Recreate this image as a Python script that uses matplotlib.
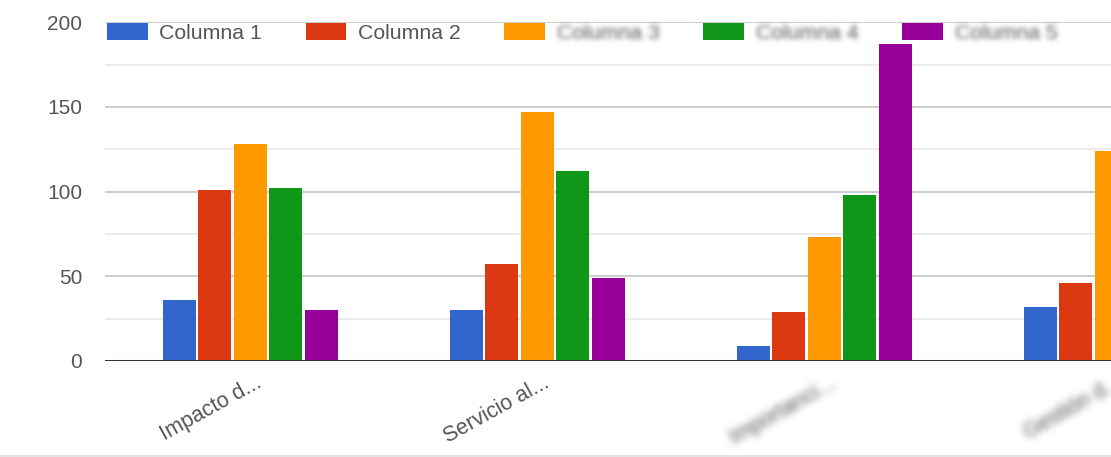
import numpy as np
import matplotlib
matplotlib.use("Agg")
import matplotlib.pyplot as plt
from matplotlib.lines import Line2D
from matplotlib.patches import Patch
from matplotlib.transforms import ScaledTranslation

# ---- data -------------------------------------------------------------
categories = ["Impacto d...", "Servicio al...", "Importanci...", "Gestión d..."]
series_names = ["Columna 1", "Columna 2", "Columna 3", "Columna 4", "Columna 5"]
columna_1 = [36, 30, 9, 32]
columna_2 = [101, 57, 29, 46]
columna_3 = [128, 147, 73, 124]
columna_4 = [102, 112, 98, np.nan]
columna_5 = [30, 49, 187, np.nan]
y_ticks = [0, 50, 100, 150, 200]
y_minor_ticks = [25, 75, 125, 175]

series = [columna_1, columna_2, columna_3, columna_4, columna_5]
colors = ["#3366cc", "#dc3912", "#ff9900", "#109618", "#990099"]

plt.rcParams["font.family"] = ["Liberation Sans", "DejaVu Sans"]


class Blur:
    """Gaussian blur applied through matplotlib's agg_filter hook."""

    def __init__(self, sigma_px):
        self.sigma = sigma_px

    def __call__(self, im, dpi):
        r = int(np.ceil(3 * self.sigma))
        t = np.arange(-r, r + 1)
        k = np.exp(-0.5 * (t / self.sigma) ** 2)
        k /= k.sum()
        pad = 2 * r
        src = np.pad(im, [(pad, pad), (pad, pad), (0, 0)], mode="constant")
        a = src[:, :, 3]
        pm = src[:, :, :3] * a[:, :, None]

        def conv(arr):
            arr = np.apply_along_axis(lambda v: np.convolve(v, k, mode="same"), 0, arr)
            arr = np.apply_along_axis(lambda v: np.convolve(v, k, mode="same"), 1, arr)
            return arr

        a_b = conv(a)
        out = np.zeros_like(src)
        for c in range(3):
            ch = conv(pm[:, :, c])
            out[:, :, c] = np.where(a_b > 1e-4, ch / np.maximum(a_b, 1e-4), 0)
        out[:, :, 3] = a_b
        return np.clip(out, 0, 1), -pad, -pad


W, H = 1111, 457
fig = plt.figure(figsize=(W / 100, H / 100), dpi=100)
fig.patch.set_facecolor("white")

left_px, base_px, top_px = 105, 361, 22.3
ax = fig.add_axes([left_px / W, (H - base_px) / H, 1 - left_px / W,
                   (base_px - top_px) / H])

x = np.arange(len(categories))
slot = 0.1237
bar_w = 0.115
for i, (vals, col) in enumerate(zip(series, colors)):
    ax.bar(x + (i - 2) * slot, vals, bar_w, color=col, zorder=3,
           label=series_names[i], linewidth=0)

ax.set_xlim(-0.507, 2.965)
ax.set_ylim(0, 200)
ax.set_yticks(y_ticks)
ax.set_yticks(y_minor_ticks, minor=True)
ax.grid(axis="y", which="major", color="#cccccc", lw=1.4, zorder=0)
ax.grid(axis="y", which="minor", color="#ebebeb", lw=1.4, zorder=0)
ax.axhline(0, color="#333333", lw=2.2, zorder=4)
for s in ax.spines.values():
    s.set_visible(False)

ax.tick_params(axis="y", which="both", length=0, pad=16.5,
               labelsize=15, labelcolor="#555555")
ax.set_xticks(x)
ax.set_xticklabels(categories, rotation=29, ha="right", va="top",
                   rotation_mode="anchor", fontsize=15.5, color="#555555")
ax.tick_params(axis="x", length=0, pad=8)
shift = ScaledTranslation(5 / 100, 0, fig.dpi_scale_trans)
for i, lbl in enumerate(ax.get_xticklabels()):
    lbl.set_transform(lbl.get_transform() + shift)
    if i >= 2:
        lbl.set_agg_filter(Blur(3.5))

handles = [Patch(facecolor=c, edgecolor="none") for c in colors]
leg = fig.legend(handles, series_names, loc="center left",
                 bbox_to_anchor=(107 / W, (H - 33) / H), ncol=5, frameon=False,
                 fontsize=15.3, handlelength=1.92, handleheight=0.87,
                 handletextpad=0.55, columnspacing=2.05, borderaxespad=0,
                 borderpad=0)
for i, t in enumerate(leg.get_texts()):
    t.set_color("#555555")
    if i >= 2:
        t.set_agg_filter(Blur(2.5))

fig.add_artist(Line2D([0, 1], [(H - 455.5) / H] * 2, transform=fig.transFigure,
                      color="#e3e3e3", lw=1.5))

fig.savefig("out.png", dpi=100, facecolor="white")
